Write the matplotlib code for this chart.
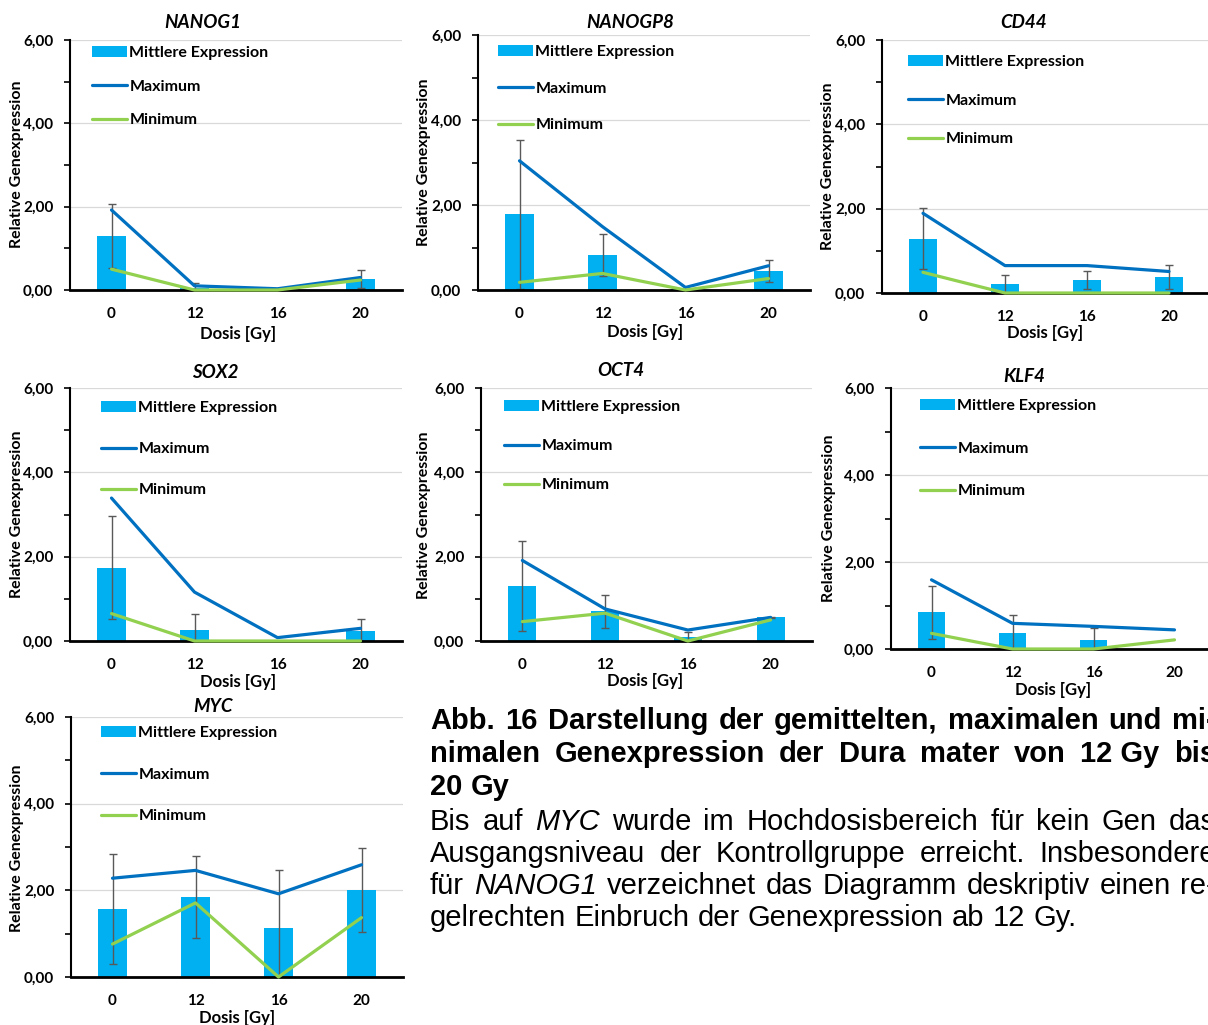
import matplotlib
matplotlib.use('Agg')
import matplotlib.pyplot as plt
from matplotlib.ticker import FixedLocator, FixedFormatter
import numpy as np

W, H, DPI = 1208, 1025, 100

doses = ['0', '12', '16', '20']
y_ticks = [0, 2, 4, 6]
y_tick_labels = ['0,00', '2,00', '4,00', '6,00']
y_minor = [1, 3, 5]
series_names = ['Mittlere Expression', 'Maximum', 'Minimum']
x_label = 'Dosis [Gy]'
y_label = 'Relative Genexpression'

nanog1_mean = [1.30, 0.05, 0.00, 0.26]
nanog1_max = [1.92, 0.10, 0.03, 0.30]
nanog1_min = [0.50, 0.00, 0.00, 0.24]
nanog1_sd = [0.77, 0.13, 0.00, 0.22]

nanogp8_mean = [1.78, 0.82, 0.02, 0.45]
nanogp8_max = [3.04, 1.49, 0.06, 0.57]
nanogp8_min = [0.18, 0.39, 0.00, 0.27]
nanogp8_sd = [1.75, 0.50, 0.00, 0.25]

cd44_mean = [1.29, 0.22, 0.31, 0.38]
cd44_max = [1.89, 0.65, 0.65, 0.51]
cd44_min = [0.49, 0.00, 0.00, 0.00]
cd44_sd = [0.73, 0.21, 0.22, 0.29]

sox2_mean = [1.74, 0.26, 0.00, 0.24]
sox2_max = [3.39, 1.16, 0.08, 0.30]
sox2_min = [0.65, 0.00, 0.00, 0.00]
sox2_sd = [1.22, 0.38, 0.00, 0.29]

oct4_mean = [1.31, 0.71, 0.10, 0.56]
oct4_max = [1.91, 0.76, 0.26, 0.56]
oct4_min = [0.46, 0.66, 0.00, 0.50]
oct4_sd = [1.07, 0.39, 0.11, 0.02]

klf4_mean = [0.84, 0.36, 0.21, 0.00]
klf4_max = [1.59, 0.59, 0.52, 0.44]
klf4_min = [0.36, 0.00, 0.00, 0.21]
klf4_sd = [0.60, 0.42, 0.28, 0.00]

myc_mean = [1.56, 1.85, 1.14, 2.00]
myc_max = [2.28, 2.46, 1.92, 2.59]
myc_min = [0.76, 1.71, 0.00, 1.37]
myc_sd = [1.27, 0.95, 1.34, 0.97]

genes = ['NANOG1', 'NANOGP8', 'CD44', 'SOX2', 'OCT4', 'KLF4', 'MYC']
gene_data = [
    (nanog1_mean, nanog1_max, nanog1_min, nanog1_sd),
    (nanogp8_mean, nanogp8_max, nanogp8_min, nanogp8_sd),
    (cd44_mean, cd44_max, cd44_min, cd44_sd),
    (sox2_mean, sox2_max, sox2_min, sox2_sd),
    (oct4_mean, oct4_max, oct4_min, oct4_sd),
    (klf4_mean, klf4_max, klf4_min, klf4_sd),
    (myc_mean, myc_max, myc_min, myc_sd),
]

# layout in pixels: axes rect (left, top, right, bottom), title, xlabel, ylabel centres, legend (x, first-row y, row spacing)
layouts = [
    dict(rect=(70, 40, 402, 290), title=(203, 22), xl=(238, 334), yl=(17, 164), leg=(92, 53, 33)),
    dict(rect=(478, 35, 810, 290), title=(630, 22), xl=(645, 332), yl=(424, 162), leg=(498, 52, 36)),
    dict(rect=(882, 40, 1210, 293), title=(1024, 22), xl=(1045, 333), yl=(828, 166), leg=(908, 62, 38)),
    dict(rect=(70, 388, 402, 641), title=(215, 372), xl=(238, 682), yl=(17, 514), leg=(101, 408, 40.5)),
    dict(rect=(481, 388, 812, 641), title=(621, 371), xl=(645, 681), yl=(424, 515), leg=(504, 407, 38.5)),
    dict(rect=(891, 388, 1215, 649), title=(1024, 377), xl=(1053, 690), yl=(829, 518), leg=(920, 406, 42)),
    dict(rect=(71, 717, 403, 977), title=(213, 706), xl=(237, 1018), yl=(17, 848), leg=(101, 733, 41)),
]

BAR_C = '#00B0F0'
MAX_C = '#0070C0'
MIN_C = '#92D050'
ERR_C = '#595959'
GRID_C = '#D9D9D9'

plt.rcParams['font.family'] = ['Lato', 'DejaVu Sans']
LEG_FS = 11.5
TICK_FS = 11
XL_FS = 12
YL_FS = 11.5
TITLE_FS = 13.5

fig = plt.figure(figsize=(W / DPI, H / DPI), dpi=DPI)
fig.patch.set_facecolor('white')


def fx(x):
    return x / W


def fy(y):
    return 1 - y / H


for gene, data, lay in zip(genes, gene_data, layouts):
    mean, mx, mn, sd = data
    l, t, r, b = lay['rect']
    ax = fig.add_axes([fx(l), fy(b), (r - l) / W, (b - t) / H])
    x = np.arange(len(doses)) + 0.5
    bars = ax.bar(x, mean, width=0.34, color=BAR_C, zorder=2, label=series_names[0])
    ax.errorbar(x, mean, yerr=sd, fmt='none', ecolor=ERR_C, elinewidth=1.0,
                capsize=3, capthick=1.0, zorder=3)
    lmax, = ax.plot(x, mx, color=MAX_C, lw=2.3, zorder=4, clip_on=False,
                    solid_capstyle='round', solid_joinstyle='round', label=series_names[1])
    lmin, = ax.plot(x, mn, color=MIN_C, lw=2.3, zorder=5, clip_on=False,
                    solid_capstyle='round', solid_joinstyle='round', label=series_names[2])
    ax.set_xlim(0, 4)
    ax.set_ylim(0, 6)
    ax.set_xticks(x)
    ax.set_xticklabels(doses, fontsize=TICK_FS, fontweight='bold')
    ax.tick_params(axis='x', length=0, pad=12)
    ax.yaxis.set_major_locator(FixedLocator(y_ticks))
    ax.yaxis.set_major_formatter(FixedFormatter(y_tick_labels))
    ax.yaxis.set_minor_locator(FixedLocator(y_minor))
    ax.tick_params(axis='y', which='major', length=4, width=1.2, pad=8, labelsize=TICK_FS)
    ax.tick_params(axis='y', which='minor', length=4, width=1.2)
    for lab in ax.get_yticklabels():
        lab.set_fontweight('bold')
    ax.grid(axis='y', which='major', color=GRID_C, lw=0.9, zorder=0)
    ax.set_axisbelow(True)
    for s in ['top', 'right']:
        ax.spines[s].set_visible(False)
    ax.spines['left'].set_linewidth(1.5)
    ax.spines['bottom'].set_linewidth(2.0)
    ax.spines['bottom'].set_zorder(3.5)

    fig.text(fx(lay['title'][0]), fy(lay['title'][1]), gene, ha='center', va='center',
             fontsize=TITLE_FS, fontweight='bold', fontstyle='italic')
    fig.text(fx(lay['xl'][0]), fy(lay['xl'][1]), x_label, ha='center', va='center',
             fontsize=XL_FS, fontweight='bold')
    fig.text(fx(lay['yl'][0]), fy(lay['yl'][1]), y_label, ha='center', va='center',
             fontsize=YL_FS, fontweight='bold', rotation=90)

    lx, ly, sp = lay['leg']
    fpx = LEG_FS * DPI / 72
    rowh = 0.84 * fpx
    ax.legend([bars, lmax, lmin], series_names, loc='upper left',
              bbox_to_anchor=(fx(lx), fy(ly - rowh / 2)), bbox_transform=fig.transFigure,
              frameon=False, borderpad=0, borderaxespad=0, handlelength=35 / fpx,
              handleheight=10 / fpx, handletextpad=0.15, labelspacing=(sp - rowh) / fpx,
              prop=dict(size=LEG_FS, weight='bold'))

# caption text
cap_lines = [
    ("Abb. 16 Darstellung der gemittelten, maximalen und mi-", 'bold', True, 729),
    ("nimalen Genexpression der Dura mater von 12\u00a0Gy bis", 'bold', True, 762),
    ("20 Gy", 'bold', False, 795),
    ("Bis auf _MYC_ wurde im Hochdosisbereich für kein Gen das", 'normal', True, 830),
    ("Ausgangsniveau der Kontrollgruppe erreicht. Insbesondere", 'normal', True, 862),
    ("für _NANOG1_ verzeichnet das Diagramm deskriptiv einen re-", 'normal', True, 894),
    ("gelrechten Einbruch der Genexpression ab 12 Gy.", 'normal', False, 926),
]
CAP_FAMILY = ['Liberation Sans', 'DejaVu Sans']
CAP_FS = 21
X0, X1 = 430, 1216

renderer = fig.canvas.get_renderer()


def text_w(s, weight, style):
    t = fig.text(0, 0, s, fontsize=CAP_FS, fontweight=weight, fontstyle=style, family=CAP_FAMILY)
    w = t.get_window_extent(renderer=renderer).width
    t.remove()
    return w


for line, weight, justify, base in cap_lines:
    words = line.split(' ')
    items = []
    for w in words:
        style = 'italic' if w.startswith('_') else 'normal'
        items.append((w.strip('_').replace('\u00a0', ' '), style))
    widths = [text_w(w, weight, st) for w, st in items]
    if justify:
        gap = (X1 - X0 - sum(widths)) / (len(items) - 1)
    else:
        gap = text_w('x x', weight, 'normal') - text_w('xx', weight, 'normal')
    xpos = X0
    for (w, st), wd in zip(items, widths):
        fig.text(fx(xpos), fy(base), w, fontsize=CAP_FS, fontweight=weight, fontstyle=st,
                 family=CAP_FAMILY, ha='left', va='baseline')
        xpos += wd + gap

fig.savefig('out.png', dpi=DPI, facecolor='white')
